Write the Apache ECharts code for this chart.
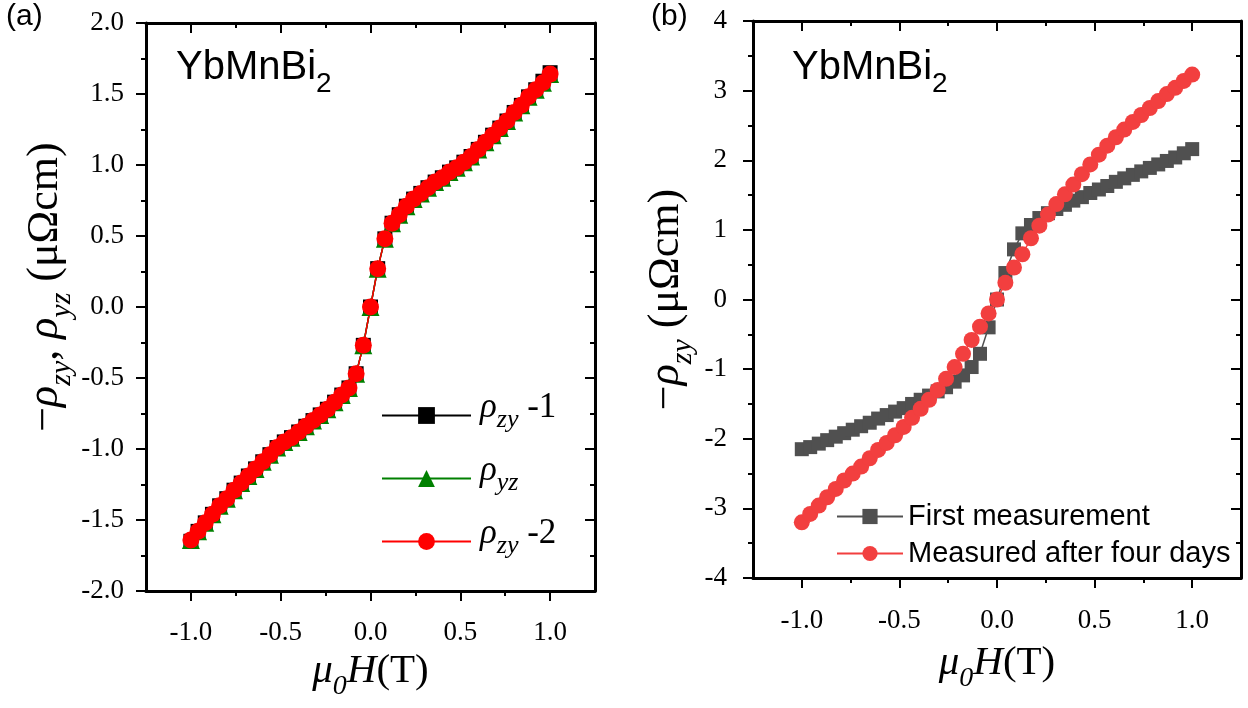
<!DOCTYPE html>
<html><head><meta charset="utf-8">
<script src="https://cdn.jsdelivr.net/npm/echarts@6/dist/echarts.min.js"></script>
<style>html,body{margin:0;padding:0;background:#fff}#c{width:1248px;height:708px}</style>
</head><body><div id="c"></div>
<script>
// ---------- data: panel (a) ----------
const hA = [-1.00,-0.96,-0.92,-0.88,-0.84,-0.80,-0.76,-0.72,-0.68,-0.64,-0.60,-0.56,-0.52,-0.48,-0.44,-0.40,-0.36,-0.32,-0.28,-0.24,-0.20,-0.16,-0.12,-0.08,-0.04,0,0.04,0.08,0.12,0.16,0.20,0.24,0.28,0.32,0.36,0.40,0.44,0.48,0.52,0.56,0.60,0.64,0.68,0.72,0.76,0.80,0.84,0.88,0.92,0.96,1.00];
const rhoZy1 = [-1.65,-1.58,-1.52,-1.46,-1.40,-1.35,-1.29,-1.24,-1.19,-1.14,-1.09,-1.04,-0.99,-0.95,-0.92,-0.88,-0.84,-0.80,-0.76,-0.72,-0.67,-0.62,-0.57,-0.47,-0.27,0,0.27,0.48,0.59,0.65,0.71,0.76,0.80,0.84,0.88,0.91,0.95,0.98,1.02,1.06,1.11,1.16,1.21,1.26,1.31,1.37,1.42,1.48,1.53,1.59,1.65];
const rhoYz  = [-1.64,-1.58,-1.52,-1.46,-1.40,-1.35,-1.29,-1.24,-1.19,-1.14,-1.09,-1.04,-0.99,-0.95,-0.92,-0.88,-0.84,-0.80,-0.76,-0.72,-0.67,-0.62,-0.57,-0.47,-0.27,0,0.27,0.48,0.59,0.65,0.71,0.76,0.80,0.84,0.88,0.91,0.95,0.98,1.02,1.06,1.11,1.16,1.21,1.26,1.31,1.37,1.42,1.48,1.53,1.58,1.64];
const rhoZy2 = [-1.64,-1.58,-1.52,-1.46,-1.40,-1.35,-1.29,-1.24,-1.19,-1.14,-1.09,-1.04,-0.99,-0.95,-0.92,-0.88,-0.84,-0.80,-0.76,-0.72,-0.67,-0.62,-0.57,-0.47,-0.27,0,0.27,0.48,0.59,0.65,0.71,0.76,0.80,0.84,0.88,0.91,0.95,0.98,1.02,1.06,1.11,1.16,1.21,1.26,1.31,1.37,1.42,1.48,1.53,1.58,1.64];
// ---------- data: panel (b) ----------
const hB = [-1.000,-0.957,-0.913,-0.870,-0.826,-0.783,-0.739,-0.696,-0.652,-0.609,-0.565,-0.522,-0.478,-0.435,-0.391,-0.348,-0.304,-0.261,-0.217,-0.174,-0.130,-0.087,-0.043,0,0.043,0.087,0.130,0.174,0.217,0.261,0.304,0.348,0.391,0.435,0.478,0.522,0.565,0.609,0.652,0.696,0.739,0.783,0.826,0.870,0.913,0.957,1.000];
const firstMeas = [-2.15,-2.12,-2.07,-2.02,-1.97,-1.92,-1.87,-1.82,-1.77,-1.71,-1.66,-1.61,-1.56,-1.50,-1.44,-1.38,-1.32,-1.26,-1.18,-1.09,-0.97,-0.78,-0.40,0,0.38,0.72,0.95,1.07,1.17,1.24,1.30,1.36,1.42,1.47,1.53,1.58,1.63,1.69,1.74,1.79,1.84,1.89,1.94,1.99,2.04,2.10,2.16];
const afterFour = [-3.20,-3.08,-2.96,-2.84,-2.72,-2.60,-2.50,-2.40,-2.28,-2.16,-2.06,-1.95,-1.83,-1.70,-1.57,-1.44,-1.30,-1.14,-0.97,-0.78,-0.58,-0.39,-0.20,0,0.24,0.46,0.65,0.88,1.06,1.22,1.37,1.51,1.65,1.80,1.94,2.08,2.21,2.33,2.44,2.55,2.65,2.75,2.85,2.95,3.04,3.14,3.23];
// ---------- ticks / labels ----------
const xMajorTicks = [-1.0,-0.5,0.0,0.5,1.0];
const xTickLabels = ['-1.0','-0.5','0.0','0.5','1.0'];
const xMinorTicks = [-0.75,-0.25,0.25,0.75];
const yTickLabelsA = ['-2.0','-1.5','-1.0','-0.5','0.0','0.5','1.0','1.5','2.0'];
const yTickLabelsB = ['-4','-3','-2','-1','0','1','2','3','4'];
const legendA = {zy1:'{i|ρ}{s|zy}{m| -1}', yz:'{i|ρ}{s|yz}', zy2:'{i|ρ}{s|zy}{m| -2}'};

const SERIF = '"Liberation Serif","Times New Roman",serif';
const SANS = '"Liberation Sans",Arial,sans-serif';
const lineSt = {color:'#000', width:3};
const tickSt = {color:'#000', width:2};

const GA = {left:146, top:23, width:449, height:568};
const GB = {left:753, top:21, width:488, height:557};

function richSet(big, small, sub){
  return {
    m:{fontFamily:SERIF, fontSize:big, lineHeight:big, verticalAlign:'bottom', padding:[0,0,sub,0], color:'#000'},
    i:{fontFamily:SERIF, fontSize:big, fontStyle:'italic', lineHeight:big, verticalAlign:'bottom', padding:[0,0,sub,0], color:'#000'},
    s:{fontFamily:SERIF, fontSize:small, fontStyle:'italic', lineHeight:small, verticalAlign:'bottom', color:'#000'}
  };
}

function xAx(grid, position, ticks, len, showLine, label, name, nameGap){
  const ax = {type:'value', gridIndex:grid, position, min:-1.25, max:1.25,
    axisLine:{show:showLine, onZero:false, lineStyle:lineSt},
    axisTick:{show:true, inside: position==='top', length:len, customValues:ticks, lineStyle:tickSt},
    axisLabel:{show:!!label, customValues:ticks},
    splitLine:{show:false}, minorTick:{show:false}};
  if(label){
    ax.axisLabel = {show:true, customValues:ticks, margin:label, fontFamily:SERIF, fontSize:27, color:'#000',
      formatter:v=>xTickLabels[Math.round(v*2)+2]};
  }
  if(name){
    ax.name = name; ax.nameLocation='middle'; ax.nameGap=nameGap;
    ax.nameTextStyle = {rich:richSet(41,28,9)};
  }
  return ax;
}
function yAx(grid, position, min, max, interval, labels, margin, name, nameGap, namePad){
  const ax = {type:'value', gridIndex:grid, position, min, max, interval,
    axisLine:{show:true, onZero:false, lineStyle:lineSt},
    axisTick:{show:true, inside: position==='right', length:10, lineStyle:tickSt},
    minorTick:{show:true, splitNumber:2, length:5, lineStyle:tickSt},
    axisLabel:{show:false}, splitLine:{show:false}, minorSplitLine:{show:false}};
  if(labels){
    ax.axisLabel = {show:true, margin, fontFamily:SERIF, fontSize:27, color:'#000',
      formatter:v=>labels[Math.round((v-min)/interval)]};
  }
  if(name){
    ax.name = name; ax.nameLocation='middle'; ax.nameGap=nameGap;
    ax.nameTextStyle = {rich:richSet(44,30,10), padding:[0,0,0,namePad||0]};
  }
  return ax;
}

const xNameStr = '{i|μ}{s|0}{i|H}{m|(T)}';
const titleRich = {
  m:{fontFamily:SANS, fontSize:40, fontWeight:'normal', lineHeight:40, verticalAlign:'bottom', padding:[0,0,10,0], color:'#000'},
  s:{fontFamily:SANS, fontSize:28, fontWeight:'normal', lineHeight:28, verticalAlign:'bottom', color:'#000'}
};

const option = {
  animation:false,
  backgroundColor:'#fff',
  grid:[Object.assign({},GA), Object.assign({},GA), Object.assign({},GB), Object.assign({},GB)],
  xAxis:[
    xAx(0,'bottom',xMajorTicks,10,true,28,xNameStr,64),
    xAx(0,'top',xMajorTicks,10,true,0),
    xAx(1,'bottom',xMinorTicks,5,false,0),
    xAx(1,'top',xMinorTicks,5,false,0),
    xAx(2,'bottom',xMajorTicks,10,true,29,xNameStr,74),
    xAx(2,'top',xMajorTicks,10,true,0),
    xAx(3,'bottom',xMinorTicks,5,false,0),
    xAx(3,'top',xMinorTicks,5,false,0)
  ],
  yAxis:[
    yAx(0,'left',-2,2,0.5,yTickLabelsA,22,'{m|−}{i|ρ}{s|zy}{m|, }{i|ρ}{s|yz}{m| (μΩcm)}',67,40),
    yAx(0,'right',-2,2,0.5,null),
    {type:'value', gridIndex:1, show:false, min:0, max:1},
    yAx(2,'left',-4,4,1,yTickLabelsB,26,'{m|−}{i|ρ}{s|zy}{m| (μΩcm)}',55,0),
    yAx(2,'right',-4,4,1,null),
    {type:'value', gridIndex:3, show:false, min:0, max:1}
  ],
  title:[
    {text:'(a)', left:6, top:2, padding:0, textStyle:{fontFamily:SANS, fontSize:30, fontWeight:'normal', color:'#000'}},
    {text:'(b)', left:651, top:2, padding:0, textStyle:{fontFamily:SANS, fontSize:30, fontWeight:'normal', color:'#000'}},
    {text:'{m|YbMnBi}{s|2}', left:176, top:58, padding:0, textStyle:{fontWeight:'normal', rich:titleRich}},
    {text:'{m|YbMnBi}{s|2}', left:792, top:58, padding:0, textStyle:{fontWeight:'normal', rich:titleRich}}
  ],
  legend:[
    {orient:'vertical', left:381, top:390, padding:0, itemWidth:89, itemHeight:21, itemGap:20, selectedMode:false,
     data:['zy1','yz','zy2'], formatter:n=>legendA[n],
     textStyle:{rich:richSet(35,26,8), padding:[0,0,0,4]}},
    {orient:'vertical', left:836, top:502, padding:0, itemWidth:66, itemHeight:19, itemGap:8, selectedMode:false,
     data:['First measurement','Measured after four days'],
     textStyle:{fontFamily:SANS, fontSize:29, color:'#000'}}
  ],
  series:[
    {type:'line', name:'zy1', xAxisIndex:0, yAxisIndex:0, data:hA.map((h,i)=>[h,rhoZy1[i]]),
     symbol:'rect', symbolSize:15, itemStyle:{color:'#000'}, lineStyle:{color:'#000', width:1.5}, silent:true},
    {type:'line', name:'yz', xAxisIndex:0, yAxisIndex:0, data:hA.map((h,i)=>[h,rhoYz[i]]),
     symbol:'triangle', symbolSize:18, itemStyle:{color:'#008000'}, lineStyle:{color:'#008000', width:1.5}, silent:true},
    {type:'line', name:'zy2', xAxisIndex:0, yAxisIndex:0, data:hA.map((h,i)=>[h,rhoZy2[i]]),
     symbol:'circle', symbolSize:17, itemStyle:{color:'#ff0000'}, lineStyle:{color:'#ff0000', width:1.5}, silent:true},
    {type:'line', name:'First measurement', xAxisIndex:4, yAxisIndex:3, data:hB.map((h,i)=>[h,firstMeas[i]]),
     symbol:'rect', symbolSize:14, itemStyle:{color:'#505050'}, lineStyle:{color:'#505050', width:1.5}, silent:true},
    {type:'line', name:'Measured after four days', xAxisIndex:4, yAxisIndex:3, data:hB.map((h,i)=>[h,afterFour[i]]),
     symbol:'circle', symbolSize:16, itemStyle:{color:'#f23f3f'}, lineStyle:{color:'#f23f3f', width:1.5}, silent:true}
  ]
};
const chart = echarts.init(document.getElementById('c'), null, {renderer:'canvas'});
chart.setOption(option);
</script></body></html>
